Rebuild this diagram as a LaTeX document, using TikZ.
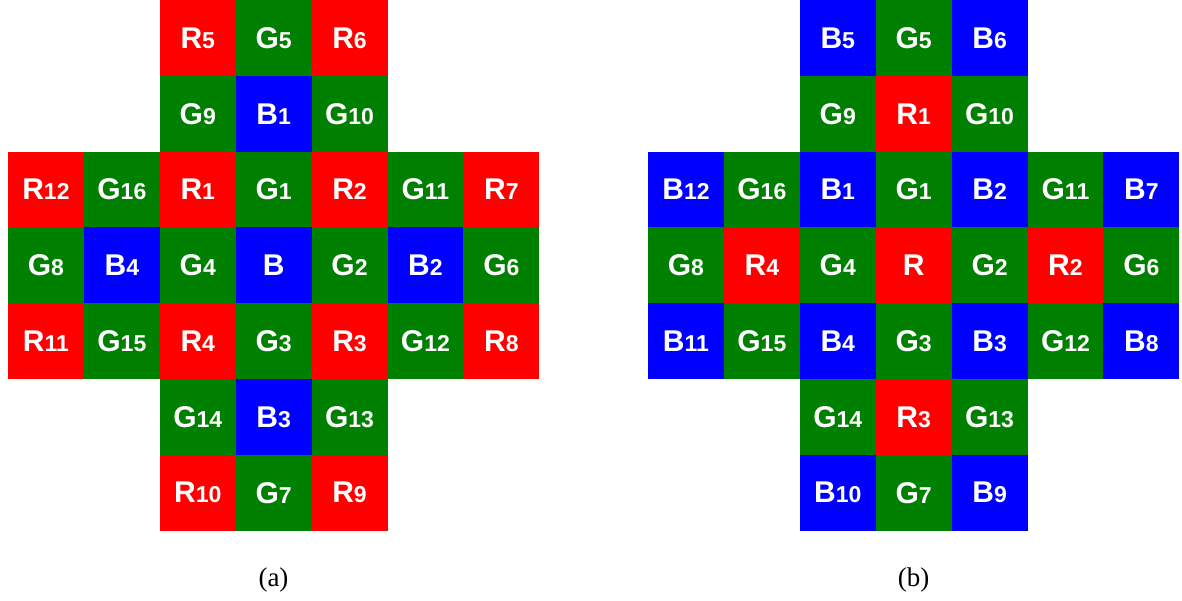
\documentclass[tikz,border=0pt]{standalone}
\usepackage{fontspec}
\setmainfont{Liberation Serif}
\newfontfamily\cellfont{Liberation Sans}
\definecolor{cR}{HTML}{FF0000}
\definecolor{cG}{HTML}{008000}
\definecolor{cB}{HTML}{0000FF}
\newcommand\sublab[1]{{\fontsize{23}{23}\selectfont #1}}
\tikzset{
  cellbox/.style={minimum width=75.9pt, minimum height=75.8pt, inner sep=0pt, outer sep=0pt,
    text=white, font=\cellfont\bfseries\fontsize{30}{30}\selectfont},
  captext/.style={font=\fontsize{27}{27}\selectfont, inner sep=0pt}
}
\begin{document}
\begin{tikzpicture}[x=1pt,y=1pt]
\useasboundingbox (0,0) rectangle (1182,-601);
% (a)
\foreach \r/\c/\col/\L/\n in {
 0/2/cR/R/5, 0/3/cG/G/5, 0/4/cR/R/6,
 1/2/cG/G/9, 1/3/cB/B/1, 1/4/cG/G/10,
 2/0/cR/R/12, 2/1/cG/G/16, 2/2/cR/R/1, 2/3/cG/G/1, 2/4/cR/R/2, 2/5/cG/G/11, 2/6/cR/R/7,
 3/0/cG/G/8, 3/1/cB/B/4, 3/2/cG/G/4, 3/3/cB/B/{}, 3/4/cG/G/2, 3/5/cB/B/2, 3/6/cG/G/6,
 4/0/cR/R/11, 4/1/cG/G/15, 4/2/cR/R/4, 4/3/cG/G/3, 4/4/cR/R/3, 4/5/cG/G/12, 4/6/cR/R/8,
 5/2/cG/G/14, 5/3/cB/B/3, 5/4/cG/G/13,
 6/2/cR/R/10, 6/3/cG/G/7, 6/4/cR/R/9}{
  \node[cellbox, fill=\col] (a-\r-\c) at ({8+75.9*(\c+0.5)},{-75.8*(\r+0.5)}) {\L\sublab{\n}};
}
% (b)
\foreach \r/\c/\col/\L/\n in {
 0/2/cB/B/5, 0/3/cG/G/5, 0/4/cB/B/6,
 1/2/cG/G/9, 1/3/cR/R/1, 1/4/cG/G/10,
 2/0/cB/B/12, 2/1/cG/G/16, 2/2/cB/B/1, 2/3/cG/G/1, 2/4/cB/B/2, 2/5/cG/G/11, 2/6/cB/B/7,
 3/0/cG/G/8, 3/1/cR/R/4, 3/2/cG/G/4, 3/3/cR/R/{}, 3/4/cG/G/2, 3/5/cR/R/2, 3/6/cG/G/6,
 4/0/cB/B/11, 4/1/cG/G/15, 4/2/cB/B/4, 4/3/cG/G/3, 4/4/cB/B/3, 4/5/cG/G/12, 4/6/cB/B/8,
 5/2/cG/G/14, 5/3/cR/R/3, 5/4/cG/G/13,
 6/2/cB/B/10, 6/3/cG/G/7, 6/4/cB/B/9}{
  \node[cellbox, fill=\col] (b-\r-\c) at ({648+75.9*(\c+0.5)},{-75.8*(\r+0.5)}) {\L\sublab{\n}};
}
\node[captext] (capa) at (273.5,-580) {(a)};
\node[captext] (capb) at (913.5,-580) {(b)};
\end{tikzpicture}
\end{document}
